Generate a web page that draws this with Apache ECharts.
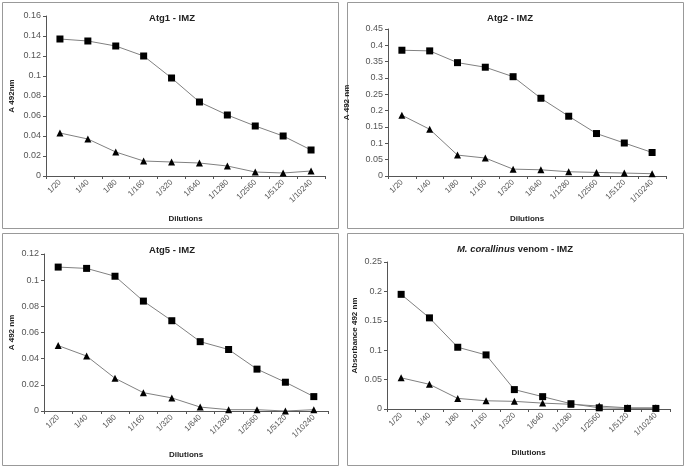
<!DOCTYPE html>
<html><head><meta charset="utf-8">
<script src="https://cdn.jsdelivr.net/npm/echarts@6/dist/echarts.min.js"></script>
<style>html,body{margin:0;padding:0;background:#fff}#c{width:685px;height:466px}</style>
</head><body><div id="c"></div>
<script>
const categories = ['1/20','1/40','1/80','1/160','1/320','1/640','1/1280','1/2560','1/5120','1/10240'];
const atg1Squares = [0.137,0.135,0.130,0.120,0.098,0.074,0.061,0.050,0.040,0.026];
const atg1Triangles = [0.043,0.037,0.024,0.015,0.014,0.013,0.010,0.004,0.003,0.005];
const atg2Squares = [0.385,0.383,0.347,0.333,0.304,0.238,0.183,0.130,0.101,0.072];
const atg2Triangles = [0.186,0.143,0.064,0.055,0.021,0.019,0.013,0.011,0.009,0.007];
const atg5Squares = [0.110,0.109,0.103,0.084,0.069,0.053,0.047,0.032,0.022,0.011];
const atg5Triangles = [0.050,0.042,0.025,0.014,0.010,0.003,0.001,0.001,0.000,0.001];
const venomSquares = [0.195,0.155,0.105,0.092,0.033,0.021,0.009,0.002,0.001,0.001];
const venomTriangles = [0.053,0.042,0.018,0.014,0.013,0.010,0.008,0.005,0.002,0.002];
const yMax = [0.16,0.45,0.12,0.25];
const yStep = [0.02,0.05,0.02,0.05];
const yNames = ['A 492nm','A 492 nm','A 492 nm','Absorbance 492 nm'];

const FONT = 'Liberation Sans, Arial, sans-serif';
const grids = [
  {left:46, top:16, width:279, height:160},
  {left:388, top:29, width:278, height:147},
  {left:44, top:254, width:284, height:157},
  {left:387, top:262, width:283, height:147}
];
const yNameGap = [30,37,28,28];
const xNameGap = [39,39,40,40];
const axisLine = {lineStyle:{color:'#555', width:1}};
const xAxis = grids.map((g,i)=>({
  type:'category', gridIndex:i, data:categories, boundaryGap:true,
  axisLine: axisLine, axisTick:{show:true, length:3, lineStyle:{color:'#555'}},
  axisLabel:{rotate:45, fontSize:8, color:'#555', fontFamily:FONT, margin:5, interval:0},
  name:'Dilutions', nameLocation:'middle', nameGap:xNameGap[i],
  nameTextStyle:{fontSize:8, fontWeight:'bold', color:'#222', fontFamily:FONT}
}));
const yAxis = grids.map((g,i)=>({
  type:'value', gridIndex:i, min:0, max:yMax[i], interval:yStep[i],
  axisLine:{show:true, lineStyle:{color:'#555', width:1}},
  axisTick:{show:true, length:3, lineStyle:{color:'#555'}},
  splitLine:{show:false},
  axisLabel:{fontSize:9, color:'#555', fontFamily:FONT, margin:5},
  name:yNames[i], nameLocation:'middle', nameGap:yNameGap[i], nameRotate:90,
  nameTextStyle:{fontSize:8, fontWeight:'bold', color:'#222', fontFamily:FONT}
}));
const pairs = [[atg1Squares,atg1Triangles],[atg2Squares,atg2Triangles],[atg5Squares,atg5Triangles],[venomSquares,venomTriangles]];
const series = [];
pairs.forEach((p,i)=>{
  series.push({type:'line', xAxisIndex:i, yAxisIndex:i, data:p[0], symbol:'rect', symbolSize:7,
    itemStyle:{color:'#000'}, lineStyle:{color:'#808080', width:1}, animation:false});
  series.push({type:'line', xAxisIndex:i, yAxisIndex:i, data:p[1], symbol:'triangle', symbolSize:7,
    itemStyle:{color:'#000'}, lineStyle:{color:'#808080', width:1}, animation:false});
});
const tStyle = {fontSize:9.5, fontWeight:'bold', color:'#222', fontFamily:FONT};
const title = [
  {text:'Atg1 - IMZ', left:167, top:8, textAlign:'center', textStyle:tStyle},
  {text:'Atg2 - IMZ', left:505, top:8, textAlign:'center', textStyle:tStyle},
  {text:'Atg5 - IMZ', left:167, top:240, textAlign:'center', textStyle:tStyle},
  {text:'{i|M. corallinus} venom - IMZ', left:510, top:239, textAlign:'center',
   textStyle:Object.assign({}, tStyle, {rich:{i:{fontStyle:'italic', fontWeight:'bold', fontSize:9.5, color:'#222', fontFamily:FONT}}})}
];
const boxes = [[2,2,336,226],[347,2,336,226],[2,233,336,232],[347,233,336,232]];
const graphic = boxes.map(b=>({type:'rect', shape:{x:b[0]+0.5,y:b[1]+0.5,width:b[2],height:b[3]}, style:{fill:'none', stroke:'#999', lineWidth:1}, silent:true}));
const chart = echarts.init(document.getElementById('c'));
chart.setOption({animation:false, title, grid:grids, xAxis, yAxis, series, graphic});
</script></body></html>
